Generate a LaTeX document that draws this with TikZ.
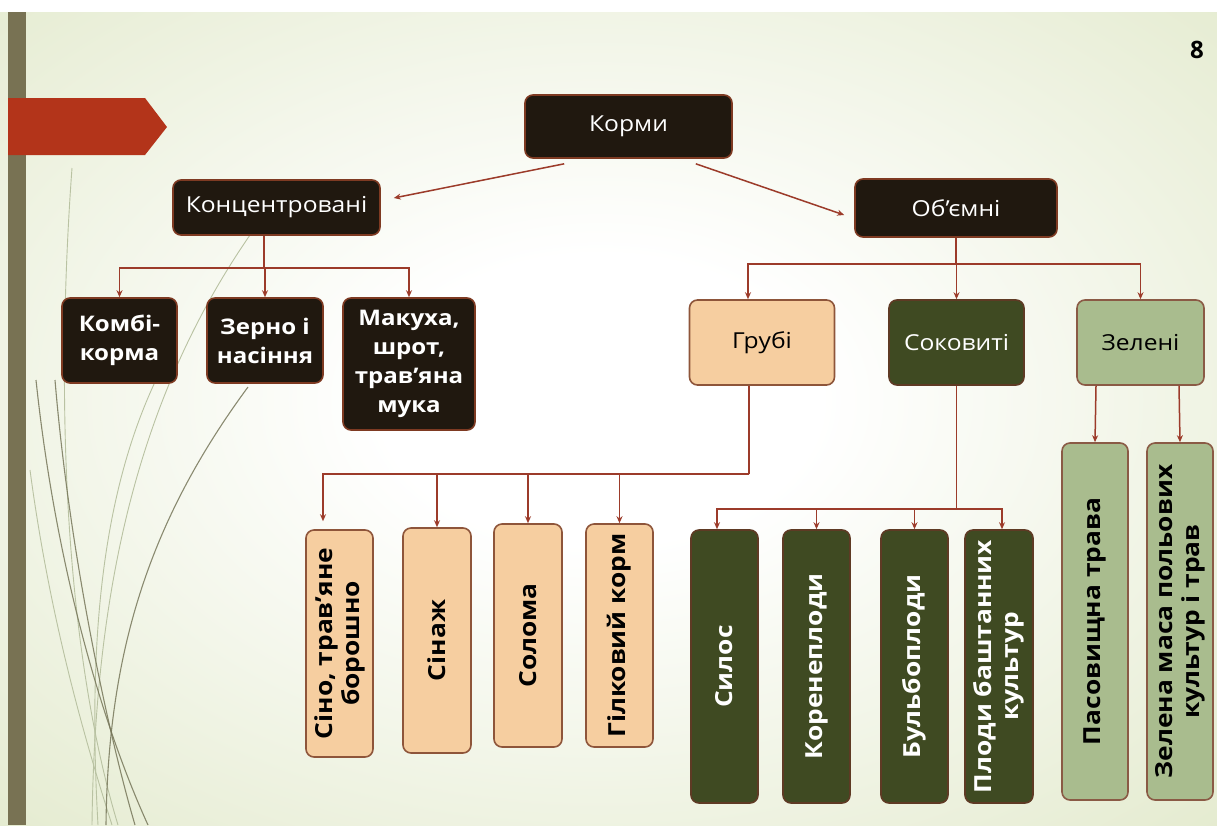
\documentclass[tikz,border=0pt]{standalone}
\usepackage{fontspec}
\setmainfont{Open Sans}
\newfontfamily\widefont{Open Sans}[FakeStretch=1.12]
\usetikzlibrary{arrows.meta,calc}
\definecolor{bgcol}{HTML}{DFE7C6}
\definecolor{barcol}{HTML}{787253}
\definecolor{redcol}{HTML}{B3341A}
\definecolor{darkfill}{HTML}{20180F}
\definecolor{darkborder}{HTML}{7E3A22}
\definecolor{peachfill}{HTML}{F6CEA0}
\definecolor{peachborder}{HTML}{8E553A}
\definecolor{olivefill}{HTML}{3F4A22}
\definecolor{oliveborder}{HTML}{5E3A24}
\definecolor{sagefill}{HTML}{A9BC8E}
\definecolor{sageborder}{HTML}{8A5A45}
\definecolor{linkcol}{HTML}{9C3B2A}
\definecolor{grassdark}{HTML}{77775A}
\definecolor{grasslight}{HTML}{B9C2A2}
\pgfdeclareradialshading{bgshade}{\pgfpoint{0bp}{0bp}}{color(0bp)=(white); color(8bp)=(white); color(38bp)=(bgcol); color(50bp)=(bgcol)}
\tikzset{
  box/.style={rounded corners=8pt, line width=1.6pt, align=center, inner sep=0pt},
  darkbox/.style={box, fill=darkfill, draw=darkborder, text=white},
  peachbox/.style={box, fill=peachfill, draw=peachborder, text=black},
  olivebox/.style={box, fill=olivefill, draw=oliveborder, text=white},
  sagebox/.style={box, fill=sagefill, draw=sageborder, text=black},
  toplabel/.style={font=\widefont\fontsize{22}{28}\selectfont},
  boldlabel/.style={font=\widefont\bfseries\fontsize{21.5}{29}\selectfont},
  vlabel/.style={rotate=90, font=\widefont\bfseries\fontsize{23.5}{27}\selectfont},
  link/.style={draw=linkcol, line width=1.5pt},
  arr/.style={link, -{Stealth[length=7pt,width=6pt]}},
  grassd/.style={draw=grassdark, line width=1.1pt, opacity=0.85},
  grassl/.style={draw=grasslight, line width=0.9pt},
}
\begin{document}
\begin{tikzpicture}[x=1pt,y=-1pt]
\useasboundingbox (0,0) rectangle (1217,825);
\fill[white] (0,0) rectangle (1217,825);
\begin{scope}
  \clip (0,12) rectangle (1217,825);
  \shade[shading=bgshade] (-83,-50) rectangle (1283,850);
  % decorative grass lines
  \draw[grassl] (72,168) .. controls (55,400) and (65,650) .. (118,825);
  \draw[grassl] (250,235) .. controls (150,380) and (95,560) .. (92,825);
  \draw[grassl] (155,382) .. controls (100,500) and (88,650) .. (98,825);
  \draw[grassl] (30,470) .. controls (50,620) and (85,740) .. (112,825);
  \draw[grassd] (36,380) .. controls (55,560) and (100,720) .. (148,825);
  \draw[grassd] (55,380) .. controls (70,560) and (110,740) .. (135,825);
  \draw[grassd] (248,387) .. controls (150,520) and (108,650) .. (106,825);
\end{scope}
% left bar and red marker
\fill[barcol] (8,12) rectangle (26,825);
\fill[redcol] (8,98) -- (145,98) -- (167,127) -- (145,155) -- (8,155) -- cycle;
% page number
\node[font=\bfseries\fontsize{24}{28}\selectfont, text=black] (pnum) at (1197,50) {8};

% level 0 and 1
\node[darkbox, toplabel, minimum width=207, minimum height=63] (korm) at (628.5,126.5) {Корми};
\node[darkbox, toplabel, minimum width=207, minimum height=55] (konc) at (276.5,207.5) {Концентровані};
\node[darkbox, toplabel, minimum width=202, minimum height=58] (obyem) at (956,208) {Об’ємні};

% concentrated children
\node[darkbox, boldlabel, minimum width=115, minimum height=85] (kombi) at (119.5,340.5) {Комбі-\\корма};
\node[darkbox, boldlabel, minimum width=116, minimum height=85] (zerno) at (265,340.5) {Зерно і\\насіння};
\node[darkbox, boldlabel, minimum width=132, minimum height=132] (makuha) at (409,364) {Макуха,\\шрот,\\трав’яна\\мука};

% bulk children
\node[peachbox, toplabel, minimum width=145, minimum height=85] (grubi) at (762,342.5) {Грубі};
\node[olivebox, toplabel, minimum width=135, minimum height=85] (sokov) at (956.5,342.5) {Соковиті};
\node[sagebox, toplabel, minimum width=127, minimum height=85] (zeleni) at (1140.5,342.5) {Зелені};

% rough feeds
\node[peachbox, vlabel, minimum width=227, minimum height=67] (sino) at (339.5,643.5) {Сіно, трав’яне\\борошно};
\node[peachbox, vlabel, minimum width=225, minimum height=68] (sinazh) at (437,640.5) {Сінаж};
\node[peachbox, vlabel, minimum width=223, minimum height=68] (soloma) at (528,635.5) {Солома};
\node[peachbox, vlabel, minimum width=223, minimum height=67] (gilk) at (619.5,635.5) {Гілковий корм};

% succulent feeds
\node[olivebox, vlabel, minimum width=273, minimum height=67] (silos) at (724.5,666.5) {Силос};
\node[olivebox, vlabel, minimum width=273, minimum height=67] (koren) at (816.5,666.5) {Коренеплоди};
\node[olivebox, vlabel, minimum width=273, minimum height=67] (bulbo) at (914.5,666.5) {Бульбоплоди};
\node[olivebox, vlabel, minimum width=273, minimum height=68] (plody) at (999,666.5) {Плоди баштанних\\культур};

% green feeds
\node[sagebox, vlabel, minimum width=357, minimum height=66] (pasov) at (1095,621.5) {Пасовищна трава};
\node[sagebox, vlabel, minimum width=357, minimum height=66] (zelmasa) at (1180,621.5) {Зелена маса польових\\культур і трав};

% connectors from Корми
\draw[arr] ($(korm.south west)+(40,5)$) -- ($(konc.east)+(13,-9.5)$);
\draw[arr] ($(korm.south east)+(-37,5)$) -- ($(obyem.west)+(-10,7)$);

% Концентровані tree
\draw[link] ($(konc.south)+(-12.5,0)$) -- ++(0,32) coordinate (kbus);
\draw[arr] (kbus) -| (kombi.north);
\draw[arr] (kbus) -| (zerno.north);
\draw[arr] (kbus) -| (makuha.north);

% Об'ємні tree
\draw[link] (obyem.south) -- ++(0,26) coordinate (obus);
\draw[arr] (obus) -| ($(grubi.north)+(-14,0)$);
\draw[arr] (obus) -| (sokov.north);
\draw[arr] (obus) -| (zeleni.north);

% Грубі tree
\draw[link] ($(grubi.south)+(-13,0)$) -- ++(0,88) coordinate (gbus);
\draw[arr, shorten >=8pt] (gbus) -| ($(sino.east)+(-16.5,0)$);
\draw[arr] (gbus) -| (sinazh.east);
\draw[arr] (gbus) -| (soloma.east);
\draw[arr] (gbus) -| (gilk.east);

% Соковиті tree
\draw[link] (sokov.south) -- ++(0,123) coordinate (sbus);
\draw[arr] (sbus) -| ($(silos.east)+(-7.5,0)$);
\draw[arr] (sbus) -| (koren.east);
\draw[arr] (sbus) -| (bulbo.east);
\draw[arr] (sbus) -| ($(plody.east)+(3,0)$);

% Зелені tree
\draw[arr] ($(zeleni.south)+(-44.5,0)$) -- (pasov.east);
\draw[arr] ($(zeleni.south)+(38.5,0)$) -- (zelmasa.east);
\end{tikzpicture}
\end{document}
